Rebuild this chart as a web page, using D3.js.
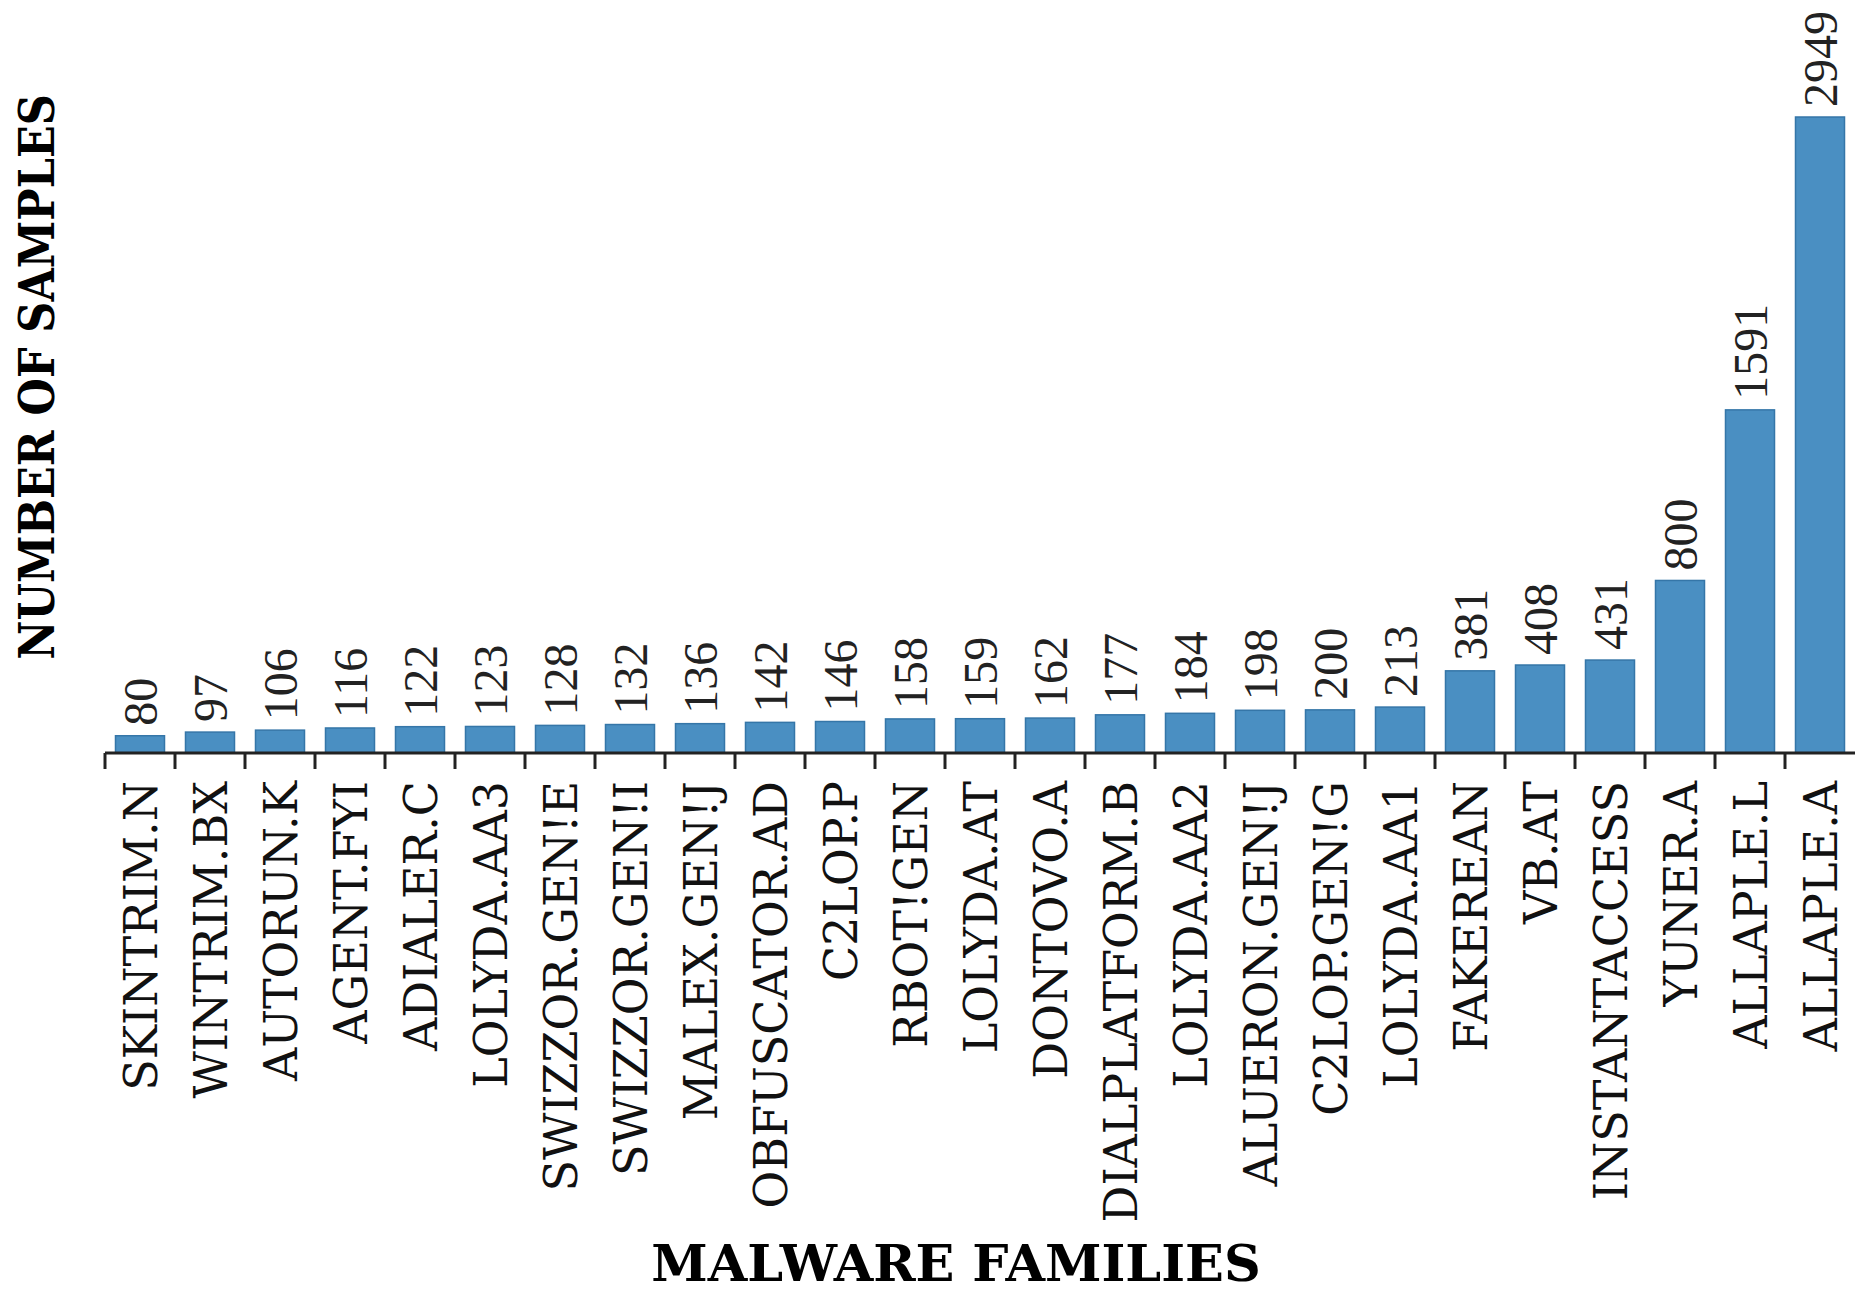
<!DOCTYPE html>
<html>
<head>
<meta charset="utf-8">
<script src="https://cdn.jsdelivr.net/npm/d3@7"></script>
<style>
  body { margin: 0; background: #fff; }
  .cat-label { font-family: "DejaVu Serif", serif; font-size: 46px; fill: #111; }
  .val-label { font-family: "Liberation Serif", serif; font-size: 48px; fill: #222; }
  .axis-title { font-family: "DejaVu Serif", serif; font-weight: bold; fill: #000; }
</style>
</head>
<body>
<div id="chart"></div>
<script>
const families = ["SKINTRIM.N", "WINTRIM.BX", "AUTORUN.K", "AGENT.FYI", "ADIALER.C",
  "LOLYDA.AA3", "SWIZZOR.GEN!E", "SWIZZOR.GEN!I", "MALEX.GEN!J", "OBFUSCATOR.AD",
  "C2LOP.P", "RBOT!GEN", "LOLYDA.AT", "DONTOVO.A", "DIALPLATFORM.B", "LOLYDA.AA2",
  "ALUERON.GEN!J", "C2LOP.GEN!G", "LOLYDA.AA1", "FAKEREAN", "VB.AT", "INSTANTACCESS",
  "YUNER.A", "ALLAPLE.L", "ALLAPLE.A"];
const samples = [80, 97, 106, 116, 122, 123, 128, 132, 136, 142, 146, 158, 159, 162,
  177, 184, 198, 200, 213, 381, 408, 431, 800, 1591, 2949];
const xTitle = "MALWARE FAMILIES";
const yTitle = "NUMBER OF SAMPLES";

var containerwidth = 1875, containerheight = 1298;
const margin = { left: 105, right: 20, top: 117, bottom: 545 };
var width = containerwidth - margin.left - margin.right,
    height = containerheight - margin.top - margin.bottom;

var data = families.map((f, i) => ({ name: f, value: samples[i] }));

var svg = d3.select("#chart").append("svg")
  .attr("width", containerwidth)
  .attr("height", containerheight);
var g = svg.append("g")
  .attr("transform", "translate(" + margin.left + "," + margin.top + ")");

const xScale = d3.scaleBand()
  .domain(families)
  .range([0, width])
  .paddingInner(0.3)
  .paddingOuter(0.15);
const yScale = d3.scaleLinear()
  .domain([0, d3.max(samples)])
  .range([height, 0]);

// bars
g.append("g").selectAll("rect")
  .data(data)
  .enter().append("rect")
  .attr("x", d => xScale(d.name))
  .attr("y", d => yScale(d.value))
  .attr("width", xScale.bandwidth())
  .attr("height", d => height - yScale(d.value))
  .attr("fill", "#4a8fc2")
  .attr("stroke", "#3576a8")
  .attr("stroke-width", 1.5);

// value labels
g.append("g").selectAll("text")
  .data(data)
  .enter().append("text")
  .attr("class", "val-label")
  .attr("transform", d => "translate(" + (xScale(d.name) + xScale.bandwidth() / 2) + "," + (yScale(d.value) - 10) + ") rotate(-90)")
  .attr("dy", "0.35em")
  .text(d => d.value);

// x axis: line + ticks on band edges
var step = xScale.step();
var xAxisG = g.append("g").attr("transform", "translate(0," + height + ")");
xAxisG.append("line")
  .attr("x1", 0).attr("x2", width)
  .attr("stroke", "#222").attr("stroke-width", 3);
xAxisG.selectAll(".tick")
  .data(families)
  .enter().append("line")
  .attr("class", "tick")
  .attr("x1", d => xScale(d) - step * 0.15)
  .attr("x2", d => xScale(d) - step * 0.15)
  .attr("y1", 0).attr("y2", 16)
  .attr("stroke", "#222").attr("stroke-width", 3);

xAxisG.selectAll(".cat-label")
  .data(families)
  .enter().append("text")
  .attr("class", "cat-label")
  .attr("transform", d => "translate(" + (xScale(d) + xScale.bandwidth() / 2) + ",28) rotate(-90)")
  .attr("text-anchor", "end")
  .attr("dy", "0.36em")
  .text(d => d);

// axis titles
svg.append("text")
  .attr("class", "axis-title")
  .attr("x", 956).attr("y", 1281)
  .attr("text-anchor", "middle")
  .style("font-size", "51px")
  .text(xTitle);
svg.append("text")
  .attr("class", "axis-title")
  .attr("transform", "translate(36,377) rotate(-90) scale(1,1.15)")
  .attr("text-anchor", "middle")
  .attr("dy", "0.36em")
  .style("font-size", "43px")
  .text(yTitle);
</script>
</body>
</html>
